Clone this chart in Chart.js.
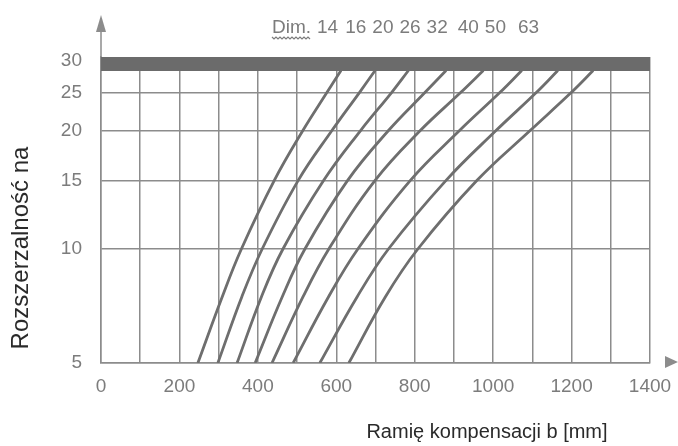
<!DOCTYPE html>
<html><head><meta charset="utf-8">
<script src="https://cdn.jsdelivr.net/npm/chart.js@4.4.0/dist/chart.umd.min.js"></script>
<style>html,body{margin:0;padding:0;background:#fff}#wrap{width:678px;height:446px;position:relative}</style>
</head><body><div id="wrap"><canvas id="c"></canvas></div>
<script>
// ---------- data ----------
const dimLabels = ['14', '16', '20', '26', '32', '40', '50', '63'];
const yLevels = [5, 7.5, 10, 15, 20, 25, 28.4];
const dim14 = [247, 309, 358, 442, 514, 576, 612];
const dim16 = [298, 359, 411, 503, 588, 659, 699];
const dim20 = [347, 409, 464, 568, 661, 741, 784];
const dim26 = [393, 462, 520, 629, 732, 826, 880];
const dim32 = [436, 515, 581, 699, 813, 917, 975];
const dim40 = [490, 580, 655, 789, 913, 1017, 1073];
const dim50 = [558, 653, 733, 880, 1006, 1110, 1165];
const dim63 = [632, 725, 808, 959, 1093, 1199, 1255];
const seriesX = [dim14, dim16, dim20, dim26, dim32, dim40, dim50, dim63];
const xRange = [0, 1400];
const xGridStep = 100;
const xLabelStep = 200;
const yTicks = [5, 10, 15, 20, 25, 30];
const yRange = [5, 30.7];
const limitBand = [28.3, 30.7];
const xTitle = 'Ramię kompensacji b [mm]';
const yTitle = 'Rozszerzalność na';
const dimTitle = 'Dim.';

// ---------- styles ----------
const FONT = "'Liberation Sans', Arial, sans-serif";
const CURVE = '#6e6e6e';
const GRID = '#8c8c8c';
const BAND = '#6b6b6b';
const TICK = '#7c7c7c';
const TITLE = '#2a2a2a';
const Y_OFFSET = 0.5;
const DIM_GAPS = [7, 6, 6, 6, 10, 6, 12];

// offset-logarithmic value scale (log(v + c)), as on the original paper chart
class OffsetLogScale extends Chart.LinearScale {
  _lg(v) { return Math.log(v + Y_OFFSET); }
  getPixelForValue(value) {
    if (value === null || value === undefined || isNaN(value)) return NaN;
    const a = this._lg(this.min), b = this._lg(this.max);
    return this.getPixelForDecimal((this._lg(value) - a) / (b - a));
  }
  getValueForPixel(pixel) {
    const a = this._lg(this.min), b = this._lg(this.max);
    return Math.exp(a + this.getDecimalForPixel(pixel) * (b - a)) - Y_OFFSET;
  }
}
OffsetLogScale.id = 'offsetLog';
OffsetLogScale.defaults = Chart.LinearScale.defaults;
Chart.register(OffsetLogScale);

const curveSets = seriesX.map((xs, i) => ({
  label: dimLabels[i],
  data: xs.map((x, j) => ({ x: x, y: yLevels[j] })),
  borderColor: CURVE,
  borderWidth: 2.8,
  pointRadius: 0,
  tension: 0.4,
  fill: false,
  order: 2
}));
const bandSets = [
  { label: 'bandTop', data: xRange.map(x => ({ x: x, y: limitBand[1] })), borderWidth: 0,
    pointRadius: 0, backgroundColor: BAND, fill: '+1', order: 0 },
  { label: 'bandBottom', data: xRange.map(x => ({ x: x, y: limitBand[0] })), borderWidth: 0,
    pointRadius: 0, backgroundColor: BAND, fill: false, order: 0 }
];

const decor = {
  id: 'decor',
  afterDraw(chart) {
    const { ctx, chartArea: a } = chart;
    ctx.save();
    ctx.fillStyle = GRID; ctx.strokeStyle = GRID; ctx.lineWidth = 1.5;
    // y axis arrow
    ctx.beginPath(); ctx.moveTo(a.left, a.top); ctx.lineTo(a.left, a.top - 26); ctx.stroke();
    ctx.beginPath(); ctx.moveTo(a.left, a.top - 42); ctx.lineTo(a.left - 5, a.top - 25);
    ctx.lineTo(a.left + 5, a.top - 25); ctx.closePath(); ctx.fill();
    // x axis arrow
    ctx.beginPath(); ctx.moveTo(a.right + 28, a.bottom - 1); ctx.lineTo(a.right + 15, a.bottom - 7);
    ctx.lineTo(a.right + 15, a.bottom + 5); ctx.closePath(); ctx.fill();
    // titles
    ctx.fillStyle = TITLE;
    ctx.font = '20px ' + FONT;
    ctx.textAlign = 'center'; ctx.textBaseline = 'middle';
    ctx.fillText(xTitle, 487, 432);
    ctx.save();
    ctx.translate(21, 248); ctx.rotate(-Math.PI / 2);
    ctx.font = '24px ' + FONT;
    ctx.fillText(yTitle, 0, 0);
    ctx.restore();
    // Dim. labels
    ctx.fillStyle = TICK;
    ctx.font = '19px ' + FONT;
    ctx.textAlign = 'left'; ctx.textBaseline = 'alphabetic';
    let x = 272;
    ctx.fillText(dimTitle, x, 33);
    const dw = ctx.measureText(dimTitle).width;
    // wavy underline
    ctx.strokeStyle = TICK; ctx.lineWidth = 1.2;
    ctx.beginPath();
    for (let px = 0; px <= dw; px += 2) {
      const yy = 37 + ((px / 2) % 2 === 0 ? 0 : 2);
      if (px === 0) ctx.moveTo(x + px, yy); else ctx.lineTo(x + px, yy);
    }
    ctx.stroke();
    x += dw + 6;
    dimLabels.forEach((l, i) => {
      ctx.fillText(l, x, 33);
      x += ctx.measureText(l).width + (DIM_GAPS[i] || 6);
    });
    ctx.restore();
  }
};

new Chart(document.getElementById('c'), {
  type: 'line',
  data: { datasets: bandSets.concat(curveSets) },
  options: {
    responsive: true,
    maintainAspectRatio: false,
    animation: false,
    layout: { padding: { top: 57, right: 28, left: 0, bottom: 0 } },
    plugins: { legend: { display: false }, tooltip: { enabled: false } },
    scales: {
      x: {
        type: 'linear', min: xRange[0], max: xRange[1],
        afterFit: s => { s.height = 83; s.paddingLeft = 0; s.paddingRight = 0; },
        grid: { color: GRID, lineWidth: 1.5, drawTicks: false },
        border: { color: GRID, width: 1.5 },
        ticks: {
          stepSize: xGridStep, autoSkip: false, maxRotation: 0, padding: 12,
          color: TICK, font: { family: FONT, size: 19 },
          callback: v => (v % xLabelStep === 0 ? String(v) : '')
        }
      },
      y: {
        type: 'offsetLog', min: yRange[0], max: yRange[1],
        afterFit: s => { s.width = 101; s.paddingTop = 0; s.paddingBottom = 0; },
        afterBuildTicks: s => { s.ticks = yTicks.map(v => ({ value: v })); },
        grid: { color: GRID, lineWidth: 1.5, drawTicks: false },
        border: { color: GRID, width: 1.5 },
        ticks: { padding: 19, color: TICK, font: { family: FONT, size: 19 },
          callback: v => String(v) }
      }
    }
  },
  plugins: [decor]
});
</script>
</body></html>
